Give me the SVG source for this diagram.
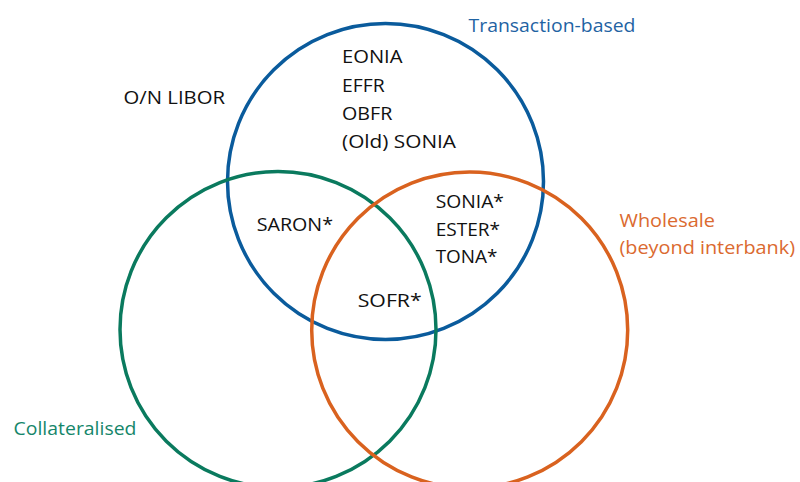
<svg xmlns="http://www.w3.org/2000/svg" width="800" height="482" viewBox="0 0 800 482">
<style>
  .c { fill: none; stroke-width: 3.5; }
  .t { font-family: "Open Sans", "Noto Sans", "Liberation Sans", sans-serif; font-size: 19px; fill: #111; }
  .blue { stroke: #0a5b9c; }
  .green { stroke: #0a7a5e; }
  .orange { stroke: #d9621f; }
  .tb { fill: #1f63a3; }
  .tg { fill: #15866a; }
  .to { fill: #db6a30; }
</style>
<rect width="800" height="482" fill="#fff"/>
<g id="connectors"></g>
<g id="transaction-based">
  <circle class="c blue" cx="385.5" cy="181.5" r="158"/>
  <text class="t tb" x="468.5" y="31.5" textLength="167" lengthAdjust="spacingAndGlyphs">Transaction-based</text>
</g>
<g id="collateralised">
  <circle class="c green" cx="278" cy="329.5" r="158"/>
  <text class="t tg" x="13.5" y="435" textLength="123" lengthAdjust="spacingAndGlyphs">Collateralised</text>
</g>
<g id="wholesale">
  <circle class="c orange" cx="469.7" cy="330" r="158"/>
  <text class="t to" x="619.5" y="226.5" textLength="95.5" lengthAdjust="spacingAndGlyphs">Wholesale</text>
  <text class="t to" x="619.5" y="253.5" textLength="175.5" lengthAdjust="spacingAndGlyphs">(beyond interbank)</text>
</g>
<g id="outside">
  <text class="t" x="123.5" y="104.3" textLength="101.5" lengthAdjust="spacingAndGlyphs">O/N LIBOR</text>
</g>
<g id="transaction-only">
  <text class="t" x="342" y="62.7" textLength="60.5" lengthAdjust="spacingAndGlyphs">EONIA</text>
  <text class="t" x="342" y="91.5" textLength="42.7" lengthAdjust="spacingAndGlyphs">EFFR</text>
  <text class="t" x="342" y="120" textLength="50.3" lengthAdjust="spacingAndGlyphs">OBFR</text>
  <text class="t" x="342" y="147.7" textLength="114" lengthAdjust="spacingAndGlyphs">(Old) SONIA</text>
</g>
<g id="transaction-collateralised">
  <text class="t" x="256.7" y="230.7" textLength="76.3" lengthAdjust="spacingAndGlyphs">SARON*</text>
</g>
<g id="transaction-wholesale">
  <text class="t" x="435.7" y="208.3" textLength="68.3" lengthAdjust="spacingAndGlyphs">SONIA*</text>
  <text class="t" x="435.7" y="235.7" textLength="64.3" lengthAdjust="spacingAndGlyphs">ESTER*</text>
  <text class="t" x="435.7" y="263.3" textLength="61.7" lengthAdjust="spacingAndGlyphs">TONA*</text>
</g>
<g id="all-three">
  <text class="t" x="357.7" y="306.7" textLength="64" lengthAdjust="spacingAndGlyphs">SOFR*</text>
</g>
</svg>
